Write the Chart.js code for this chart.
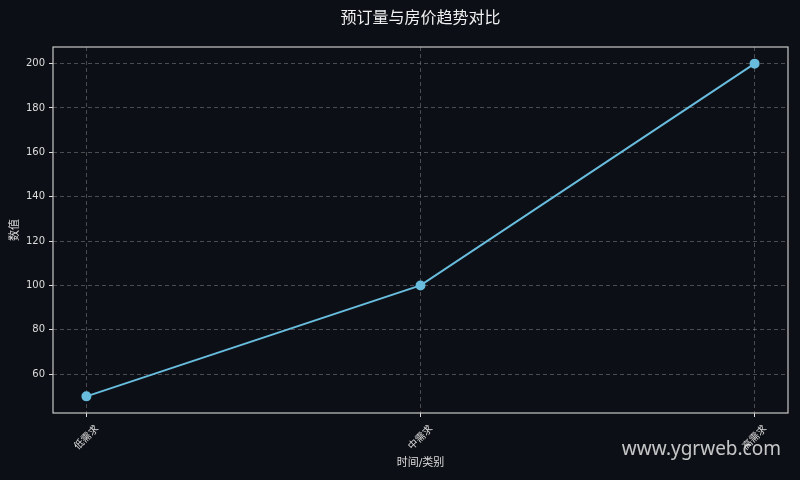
<!DOCTYPE html>
<html>
<head>
<meta charset="utf-8">
<script src="https://cdn.jsdelivr.net/npm/chart.js@4"></script>
<style>
  html, body { margin: 0; padding: 0; background: #0c0f15; }
  #wrap { width: 800px; height: 480px; position: relative; }
</style>
</head>
<body>
<div id="wrap"><canvas id="trendChart"></canvas></div>
<script>
  // data
  const chartTitle = '预订量与房价趋势对比';
  const categories = ['低需求', '中需求', '高需求'];
  const values = [50, 100, 200];
  const yTicks = [60, 80, 100, 120, 140, 160, 180, 200];

  const FONT = '"DejaVu Sans", "Noto Sans CJK SC", sans-serif';
  const gridColor = 'rgba(150,150,150,0.45)';

  // background, top/right frame, title over the plot area, watermark
  const bgAndFrame = {
    id: 'bgAndFrame',
    beforeDraw(chart) {
      const c = chart.ctx;
      c.save();
      c.fillStyle = '#0c0f15';
      c.fillRect(0, 0, chart.width, chart.height);
      c.restore();
    },
    afterDraw(chart) {
      const c = chart.ctx;
      const a = chart.chartArea;
      c.save();
      c.strokeStyle = '#c8c8c8';
      c.lineWidth = 1.2;
      c.strokeRect(a.left, a.top, a.right - a.left, a.bottom - a.top);

      c.font = '16px ' + FONT;
      c.fillStyle = '#f0f0f0';
      c.textAlign = 'center';
      c.textBaseline = 'middle';
      c.fillText(chartTitle, (a.left + a.right) / 2, 19);

      c.font = '19px "Noto Sans", "Open Sans", sans-serif';
      c.fillStyle = 'rgba(230,230,230,0.85)';
      c.textAlign = 'right';
      c.textBaseline = 'alphabetic';
      c.fillText('www.ygrweb.com', 781, 455);
      c.restore();
    }
  };

  const ctx = document.getElementById('trendChart').getContext('2d');
  const trendChart = new Chart(ctx, {
    type: 'line',
    data: {
      datasets: [{
        label: '数值',
        data: values.map((v, i) => ({ x: i, y: v })),
        borderColor: '#68bcdd',
        backgroundColor: '#68bcdd',
        borderWidth: 2,
        pointRadius: 4,
        pointHoverRadius: 4,
        fill: false,
        tension: 0
      }]
    },
    options: {
      responsive: true,
      maintainAspectRatio: false,
      animation: false,
      layout: { padding: { left: 0, right: 12, top: 47, bottom: 0 } },
      plugins: {
        legend: { display: false },
        tooltip: { enabled: false },
        title: { display: false }
      },
      scales: {
        x: {
          type: 'linear',
          min: -0.1,
          max: 2.1,
          afterBuildTicks: s => { s.ticks = categories.map((c, i) => ({ value: i })); },
          afterFit: s => { s.height = 67; },
          ticks: {
            color: '#dddddd',
            font: { family: FONT, size: 10 },
            maxRotation: 45,
            minRotation: 45,
            labelOffset: 11,
            padding: 6,
            callback: v => categories[v]
          },
          grid: {
            color: gridColor,
            tickColor: '#dddddd',
            tickLength: 4
          },
          border: { display: false, dash: [4, 3] },
          title: {
            display: true,
            text: '时间/类别',
            color: '#dddddd',
            font: { family: FONT, size: 11 },
            padding: { top: 0, bottom: 10 }
          }
        },
        y: {
          min: 42.5,
          max: 207.5,
          afterBuildTicks: s => { s.ticks = yTicks.map(v => ({ value: v })); },
          afterFit: s => { s.width = 53; },
          ticks: {
            color: '#dddddd',
            font: { family: FONT, size: 10 },
            padding: 4
          },
          grid: {
            color: gridColor,
            tickColor: '#dddddd',
            tickLength: 4
          },
          border: { display: false, dash: [4, 3] },
          title: {
            display: true,
            text: '数值',
            color: '#dddddd',
            font: { family: FONT, size: 11 },
            padding: { top: 9, bottom: 0 }
          }
        }
      }
    },
    plugins: [bgAndFrame]
  });
</script>
</body>
</html>
